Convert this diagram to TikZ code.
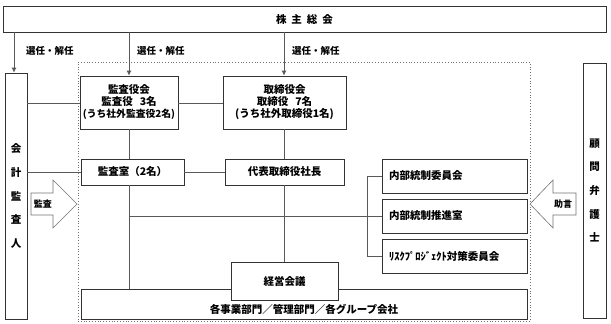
\documentclass[tikz,border=0pt]{standalone}
\usepackage{fontspec}
\setmainfont{Noto Sans CJK JP}
\usetikzlibrary{arrows.meta,calc}
\begin{document}
\begin{tikzpicture}[x=1pt,y=-1pt,
  box/.style={draw=black!80, fill=white, line width=0.8pt, inner sep=0pt,
    font=\fontsize{10.5}{12}\selectfont\bfseries, align=center},
  vbox/.style={box, font=\fontsize{10.5}{23.7}\selectfont\bfseries},
  rbox/.style={box, align=left, inner xsep=7pt, text width=131pt, minimum height=34pt},
  conn/.style={draw=black!65, line width=0.8pt},
  arr/.style={conn, -{Latex[length=5pt,width=5pt]}},
  lbl/.style={font=\fontsize{9.5}{11}\selectfont\bfseries, inner sep=0pt, anchor=west},
  barrow/.style={draw=black!55, fill=white, line width=0.6pt},
  btext/.style={font=\fontsize{9}{10}\selectfont\bfseries, inner sep=0pt},
]
\useasboundingbox (0,0) rectangle (611,324);
% dotted group
\node[draw=black!55, dotted, line width=0.8pt, minimum width=452pt, minimum height=259pt, inner sep=0pt] (grp) at (304,191.5) {};
% top
\node[box, minimum width=603pt, minimum height=26pt] (top) at (304.5,19) {株\hspace{5pt}主\hspace{5pt}総\hspace{5pt}会};
% side boxes
\node[vbox, minimum width=22pt, minimum height=246pt] (kaikei) at (16,196) {会\\計\\監\\査\\人};
\node[vbox, minimum width=23pt, minimum height=255pt] (komon) at (594.5,190.5) {顧\\問\\弁\\護\\士};
% main boxes
\node[box, minimum width=98pt, minimum height=53pt] (kansayaku) at (129,102.5) {監査役会\\監査役\hspace{7pt}3名\\{\fontsize{9.8}{12}\selectfont (うち社外監査役2名)}};
\node[box, minimum width=123pt, minimum height=53pt] (torishimari) at (284.5,102.5) {取締役会\\取締役\hspace{7pt}7名\\(うち社外取締役1名)};
\node[box, minimum width=103pt, minimum height=26pt] (kansashitsu) at (132.5,172) {監査室（2名）};
\node[box, minimum width=119pt, minimum height=26pt] (daihyo) at (284.5,172) {代表取締役社長};
\node[rbox] (iinkai) at (454.5,176) {内部統制委員会};
\node[rbox] (suishin) at (454.5,216) {内部統制推進室};
\node[rbox] (risk) at (454.5,256) {ﾘｽｸﾌﾟﾛｼﾞｪｸﾄ対策委員会};
\node[box, minimum width=446pt, minimum height=30pt,
  label={[font=\fontsize{10.5}{12}\selectfont\bfseries, yshift=-5pt]center:各事業部門／管理部門／各グループ会社}] (bottom) at (304,304) {};
\node[box, minimum width=107pt, minimum height=38pt] (keiei) at (284.5,281) {経営会議};
% top connectors
\draw[arr] (14,0 |- top.south) -- (14,0 |- kaikei.north);
\draw[arr] (129,0 |- top.south) -- (129,0 |- kansayaku.north);
\draw[arr] (284,0 |- top.south) -- (284,0 |- torishimari.north);
\node[lbl] (l1) at (26,51) {選任・解任};
\node[lbl] (l2) at (137,51) {選任・解任};
\node[lbl] (l3) at (292,51) {選任・解任};
% horizontal connectors
\draw[conn] (kaikei.east |- 0,103) -- (kansayaku.west |- 0,103);
\draw[conn] (kansayaku.east |- 0,103) -- (torishimari.west |- 0,103);
\draw[conn] (kaikei.east |- kansashitsu.west) -- (kansashitsu.west);
\draw[conn] (kansashitsu.east) -- (daihyo.west);
% vertical connectors
\draw[conn] (129,0 |- kansayaku.south) -- (129,0 |- kansashitsu.north);
\draw[conn] (129,0 |- kansashitsu.south) -- (129,0 |- bottom.north);
\draw[conn] (284,0 |- torishimari.south) -- (284,0 |- daihyo.north);
\draw[conn] (284,0 |- daihyo.south) -- (284,0 |- keiei.north);
\coordinate (j1) at (129,216);
\draw[conn] (j1) -- (suishin.west);
\draw[conn] (iinkai.west) -- ++(-14,0) |- (risk.west);
% block arrows
\draw[barrow] (31,193) -- (53,193) -- (53,180) -- (77,204) -- (53,228) -- (53,215) -- (31,215) -- cycle;
\node[btext] (kansa) at (43,204) {監査};
\draw[barrow] (576,193) -- (553,193) -- (553,180) -- (530,204) -- (553,228) -- (553,215) -- (576,215) -- cycle;
\node[btext] (jogen) at (563,204) {助言};
\end{tikzpicture}
\end{document}
